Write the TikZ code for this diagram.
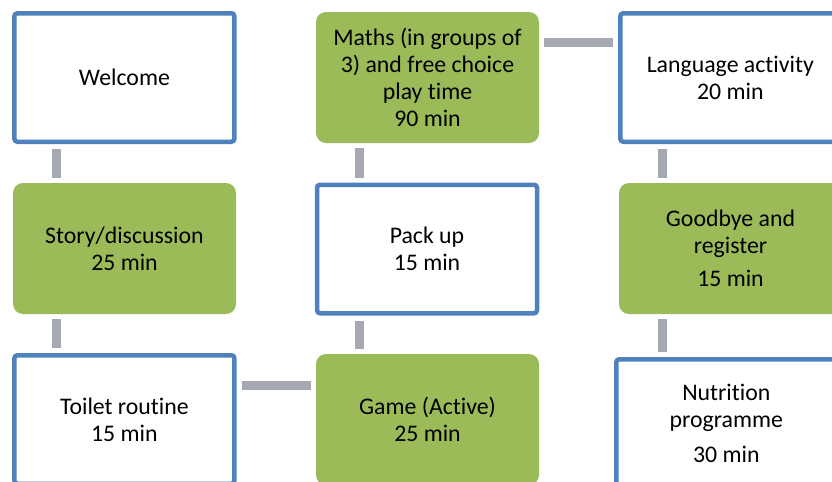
\documentclass[tikz,border=0pt]{standalone}
\usepackage{fontspec}
\setmainfont{Carlito}[Ligatures=NoCommon]
\usetikzlibrary{positioning}

\definecolor{boxblue}{RGB}{79,129,189}
\definecolor{boxgreen}{RGB}{155,187,89}
\definecolor{linkgray}{RGB}{166,168,178}

\tikzset{
  stagetext/.style={align=center, text=black, font=\fontsize{11.9}{13.5}\selectfont},
  bluebox/.style={stagetext, draw=boxblue, line width=2.25pt, rounded corners=1.5pt,
    fill=white, minimum width=110pt, minimum height=64.25pt},
  greenbox/.style={stagetext, fill=boxgreen, rounded corners=5pt,
    minimum width=111.5pt, minimum height=65.5pt},
  link/.style={draw=linkgray, line width=4.5pt, shorten <=2.5pt, shorten >=2.5pt}
}

\begin{document}
\begin{tikzpicture}[x=0.5pt, y=-0.5pt]
  \useasboundingbox (0,0) rectangle (832,482);
  \clip (0,0) rectangle (832,482);

  % Left column
  \node[bluebox] (welcome) at (124.4,77.5) {Welcome};
  \node[greenbox] (story) at (124.5,248.5) {Story/discussion\\25 min};
  \node[bluebox] (toilet) at (124.4,419.5) {Toilet routine\\15 min};

  % Middle column
  \node[greenbox] (maths) at (427.5,77.5) {Maths (in groups of\\3) and free choice\\play time\\90 min};
  \node[bluebox] (packup) at (427,249) {Pack up\\15 min};
  \node[greenbox] (game) at (427.5,419.5) {Game (Active)\\25 min};

  % Right column
  \node[bluebox] (language) at (730.3,77.5) {Language activity\\20 min};
  \node[greenbox] (goodbye) at (730.5,248.5) {Goodbye and\\register\\[3pt]15 min};
  \node[bluebox] (nutrition) at (726.3,423.5) {Nutrition\\programme\\[4pt]30 min};

  % Connectors
  \coordinate (w1) at ([xshift=22.25pt]welcome.south west);
  \draw[link] (w1) -- (w1 |- story.north);
  \coordinate (s1) at ([xshift=22pt]story.south west);
  \draw[link] (s1) -- (s1 |- toilet.north);
  \coordinate (t1) at ([yshift=-16pt]toilet.north east);
  \draw[link] (t1) -- (t1 -| game.west);
  \coordinate (g1) at ([xshift=21.75pt]game.north west);
  \draw[link] (g1) -- (g1 |- packup.south);
  \coordinate (m1) at ([xshift=21.75pt]maths.south west);
  \draw[link] (m1 |- packup.north) -- (m1);
  \coordinate (m2) at ([yshift=-15.25pt]maths.north east);
  \draw[link] (m2) -- (m2 -| language.west);
  \coordinate (l1) at ([xshift=22.25pt]language.south west);
  \draw[link] (l1) -- (l1 |- goodbye.north);
  \coordinate (b1) at ([xshift=21.75pt]goodbye.south west);
  \draw[link] (b1) -- (b1 |- nutrition.north);
\end{tikzpicture}
\end{document}
